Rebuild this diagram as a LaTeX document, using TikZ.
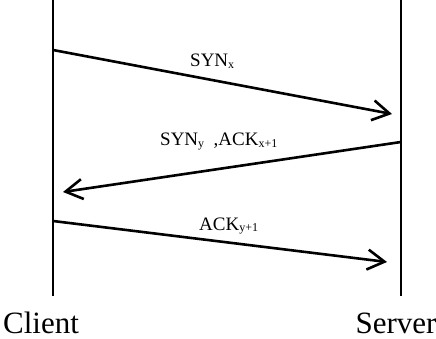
\documentclass[tikz,border=0pt]{standalone}
\usepackage{fontspec}
\setmainfont{Liberation Serif}
\usetikzlibrary{arrows.meta}
\tikzset{
  lifeline/.style={line width=2.2pt},
  msg/.style={line width=2.6pt, -{Straight Barb[length=17pt,width=20pt,line width=2.6pt]}},
  msglabel/.style={font=\fontsize{19}{22}\selectfont, inner sep=0pt, anchor=base west},
  party/.style={font=\fontsize{31}{36}\selectfont, inner sep=0pt, anchor=base}
}
\newcommand{\sbx}[1]{\raisebox{-0.2ex}{\fontsize{12}{13}\selectfont #1}}
\begin{document}
\begin{tikzpicture}[x=1pt,y=-1pt]
  \useasboundingbox (0,0) rectangle (436,339);
  % lifelines
  \coordinate (ctop) at (53,0);
  \coordinate (cbot) at (53,296);
  \coordinate (stop) at (401,0);
  \coordinate (sbot) at (401,296);
  \draw[lifeline] (ctop) -- (cbot);
  \draw[lifeline] (stop) -- (sbot);
  % message end points
  \coordinate (m1a) at (53,50);
  \coordinate (m1b) at (392,114);
  \coordinate (m2a) at (401,142);
  \coordinate (m2b) at (63,192);
  \coordinate (m3a) at (53,221);
  \coordinate (m3b) at (387,262);
  \draw[msg] (m1a) -- (m1b);
  \draw[msg] (m2a) -- (m2b);
  \draw[msg] (m3a) -- (m3b);
  % message labels
  \node[msglabel] (l1) at (190,67) {SYN\sbx{x}};
  \node[msglabel] (l2) at (160,146) {SYN\sbx{y}\ \ ,ACK\sbx{x+1}};
  \node[msglabel] (l3) at (199,230) {ACK\sbx{y+1}};
  % parties
  \node[party] (client) at (41,333) {Client};
  \node[party] (server) at (396,333) {Server};
\end{tikzpicture}
\end{document}
